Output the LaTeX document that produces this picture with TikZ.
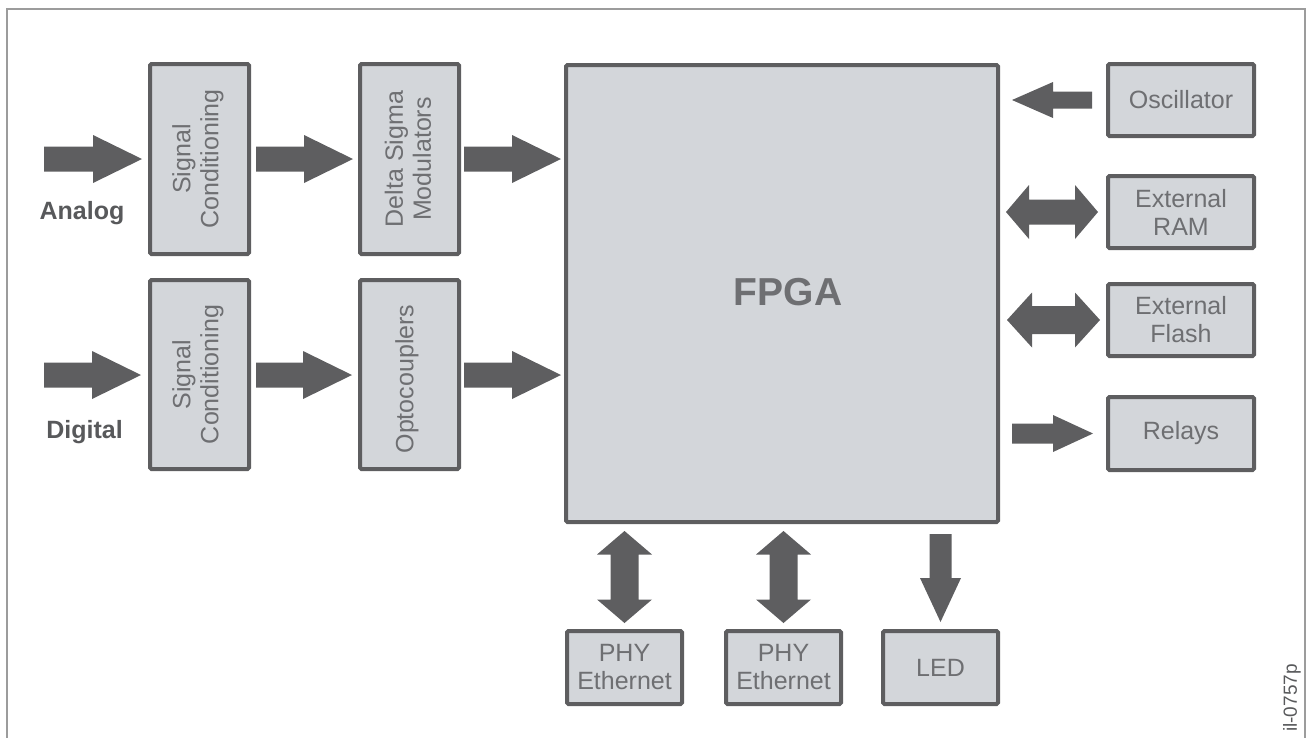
\documentclass[tikz,border=0pt]{standalone}
\usepackage{fontspec}
\setmainfont{Liberation Sans}
\usetikzlibrary{calc}
\definecolor{framegray}{HTML}{9C9C9C}
\definecolor{boxfill}{HTML}{D3D6DA}
\definecolor{boxline}{HTML}{5E5E60}
\definecolor{arrowgray}{HTML}{5E5E60}
\definecolor{textgray}{HTML}{6E6F72}
\definecolor{labelgray}{HTML}{58595B}
% single block arrow: from, to, shaft half width, head half width, head length
\newcommand\bigarrow[5]{%
  \fill[arrowgray] let \p1=(#1), \p2=(#2),
    \n1={veclen(\x2-\x1,\y2-\y1)}, \n2={atan2(\y2-\y1,\x2-\x1)} in
    [shift={(\p1)}, rotate=\n2]
    (0pt,-#3pt) -- (\n1-#5pt,-#3pt) -- (\n1-#5pt,-#4pt) -- (\n1,0pt)
    -- (\n1-#5pt,#4pt) -- (\n1-#5pt,#3pt) -- (0pt,#3pt) -- cycle;}
% double block arrow
\newcommand\bigdarrow[5]{%
  \fill[arrowgray] let \p1=(#1), \p2=(#2),
    \n1={veclen(\x2-\x1,\y2-\y1)}, \n2={atan2(\y2-\y1,\x2-\x1)} in
    [shift={(\p1)}, rotate=\n2]
    (0pt,0pt) -- (#5pt,-#4pt) -- (#5pt,-#3pt) -- (\n1-#5pt,-#3pt) -- (\n1-#5pt,-#4pt)
    -- (\n1,0pt) -- (\n1-#5pt,#4pt) -- (\n1-#5pt,#3pt) -- (#5pt,#3pt) -- (#5pt,#4pt) -- cycle;}
\tikzset{
  blk/.style={draw=boxline, fill=boxfill, line width=4pt, rounded corners=1.5pt,
    inner sep=0pt, outer sep=0pt},
  blktext/.style={text=textgray, font=\fontsize{25}{28}\selectfont, align=center, inner sep=0pt},
  sidelabel/.style={text=labelgray, font=\fontsize{25}{28}\selectfont\bfseries, inner sep=0pt, anchor=base},
}
\begin{document}
\begin{tikzpicture}[x=1pt, y=-1pt]
\useasboundingbox (0,0) rectangle (1306,737);
\draw[framegray, line width=1.5pt] (7,745) -- (7,9) -- (1305,9) -- (1305,745);

% left column blocks
\node[blk, minimum width=99pt, minimum height=190pt] (sc1) at (199.5,159) {};
\node[blk, minimum width=99pt, minimum height=190pt] (dsm) at (409.5,159) {};
\node[blk, minimum width=99pt, minimum height=189pt] (sc2) at (199.5,374.5) {};
\node[blk, minimum width=99pt, minimum height=189pt] (opto) at (409.5,374.5) {};
\node[blktext, rotate=90] (sc1t) at (198,159) {Signal\\Conditioning};
\node[blktext, rotate=90] (dsmt) at (408,159) {Delta Sigma\\Modulators};
\node[blktext, rotate=90] (sc2t) at (198,374.5) {Signal\\Conditioning};
\node[blktext, rotate=90] (optot) at (407,379) {Optocouplers};

% FPGA
\node[blk, minimum width=432pt, minimum height=457pt] (fpga) at (782,293.5) {};
\node[text=textgray, font=\fontsize{39}{44}\selectfont\bfseries, inner sep=0pt, anchor=base] (fpgat) at (788,305) {FPGA};

% right column
\node[blk, blktext, minimum width=146pt, minimum height=72pt] (osc) at (1181,100) {Oscillator};
\node[blk, blktext, minimum width=146pt, minimum height=72pt] (ram) at (1181,212) {External\\RAM};
\node[blk, blktext, minimum width=146pt, minimum height=72pt] (flash) at (1181,320) {External\\Flash};
\node[blk, blktext, minimum width=146pt, minimum height=73pt] (rel) at (1181,433.5) {Relays};

% bottom row
\node[blk, blktext, minimum width=115pt, minimum height=73pt] (phy1) at (624.5,667.5) {PHY\\Ethernet};
\node[blk, blktext, minimum width=115pt, minimum height=73pt] (phy2) at (783.5,667.5) {PHY\\Ethernet};
\node[blk, blktext, minimum width=115pt, minimum height=73pt] (led) at (940.5,667.5) {LED};

% side labels
\node[sidelabel] (analog) at (82,219) {Analog};
\node[sidelabel] (digital) at (84.5,438) {Digital};
\node[text=labelgray, font=\fontsize{19}{22}\selectfont, rotate=90, inner sep=0pt] (ref) at (1292,698) {il-0757p};

% free input ends
\coordinate (ain) at (44,159);
\coordinate (din) at (44,375);

% arrows
\bigarrow{ain}{$(sc1.west)+(-8,0)$}{12.5}{24}{49}
\bigarrow{$(sc1.east)+(7,0)$}{$(dsm.west)+(-7,0)$}{12.5}{24}{49}
\bigarrow{$(dsm.east)+(5,0)$}{$(fpga.west|-dsm.east)+(-5,0)$}{12.5}{24}{49}
\bigarrow{din}{$(sc2.west|-din)+(-9,0)$}{12.5}{24}{49}
\bigarrow{$(sc2.east|-din)+(7,0)$}{$(opto.west|-din)+(-8,0)$}{12.5}{24}{49}
\bigarrow{$(opto.east|-din)+(5,0)$}{$(fpga.west|-din)+(-5,0)$}{12.5}{24}{49}

\bigarrow{$(osc.west)+(-16,0)$}{$(fpga.east|-osc.west)+(14,0)$}{8.5}{18}{41}
\bigdarrow{$(fpga.east|-ram.west)+(8,0)$}{$(ram.west)+(-10,0)$}{12.5}{27}{23}
\bigdarrow{$(fpga.east|-flash.west)+(9,0)$}{$(flash.west)+(-8,0)$}{14}{27.5}{25}
\bigarrow{$(fpga.east|-rel.west)+(14,0)$}{$(rel.west)+(-15,0)$}{10}{18.5}{40}

\bigdarrow{$(phy1.north|-fpga.south)+(0,9)$}{$(phy1.north)+(0,-8)$}{14}{27.5}{23.5}
\bigdarrow{$(phy2.north|-fpga.south)+(0,9)$}{$(phy2.north)+(0,-8)$}{14}{27.5}{23.5}
\bigarrow{$(led.north|-fpga.south)+(0,12)$}{$(led.north)+(0,-9)$}{11}{20.5}{44}
\end{tikzpicture}
\end{document}
